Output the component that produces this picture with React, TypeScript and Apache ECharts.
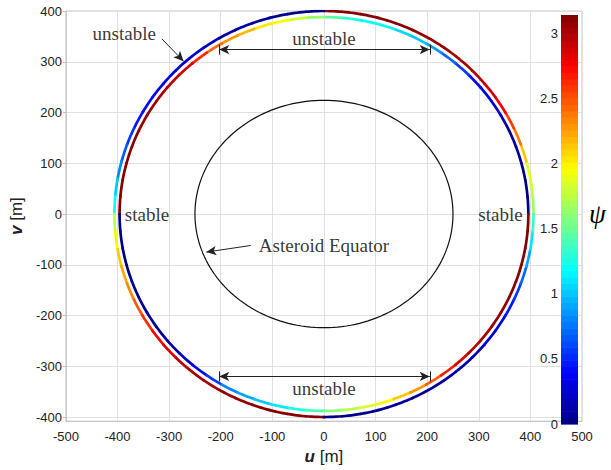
import React, { useEffect, useRef } from "react";
import * as echarts from "echarts";

// ---- axes / ticks ----
const xTicks = [-500, -400, -300, -200, -100, 0, 100, 200, 300, 400, 500];
const yTicks = [-400, -300, -200, -100, 0, 100, 200, 300, 400];
const cbTicks = [0, 0.5, 1, 1.5, 2, 2.5, 3];
const PSI_MAX = 3.1416;

// ---- sample angles (deg) along each closed curve ----
const sampleAnglesDeg = [
  0, 5, 10, 15, 20, 25, 30, 35, 40, 45, 50, 55, 60, 65, 70, 75, 80, 85,
  90, 95, 100, 105, 110, 115, 120, 125, 130, 135, 140, 145, 150, 155, 160, 165, 170, 175,
  180, 185, 190, 195, 200, 205, 210, 215, 220, 225, 230, 235, 240, 245, 250, 255, 260, 265,
  270, 275, 280, 285, 290, 295, 300, 305, 310, 315, 320, 325, 330, 335, 340, 345, 350, 355,
];

// outer orbit (semi-axes u, v) and psi read along it
const outerOrbitAxes = [406, 400];
const outerOrbitPsi = [
  1.65, 1.78, 1.9, 2.15, 2.4, 2.6, 2.75, 2.88, 2.95, 3.0, 3.04, 3.07, 3.09, 3.1, 3.11, 3.12, 3.12, 3.13,
  0.03, 0.04, 0.06, 0.08, 0.1, 0.13, 0.18, 0.24, 0.29, 0.33, 0.37, 0.41, 0.47, 0.55, 0.67, 0.82, 1.0, 1.22,
  1.75, 2.0, 2.12, 2.22, 2.32, 2.48, 2.65, 2.78, 2.88, 2.95, 3.0, 3.04, 3.07, 3.09, 3.1, 3.11, 3.12, 3.13,
  0.02, 0.03, 0.04, 0.05, 0.06, 0.07, 0.08, 0.1, 0.13, 0.18, 0.25, 0.34, 0.45, 0.58, 0.73, 0.9, 1.1, 1.35,
];

// inner orbit
const innerOrbitAxes = [396, 388];
const innerOrbitPsi = [
  0.02, 0.03, 0.04, 0.05, 0.07, 0.12, 0.2, 0.3, 0.42, 0.55, 0.7, 0.85, 1.0, 1.07, 1.13, 1.2, 1.3, 1.45,
  1.62, 1.8, 1.95, 2.05, 2.18, 2.28, 2.45, 2.65, 2.85, 2.97, 3.03, 3.07, 3.09, 3.1, 3.11, 3.12, 3.12, 3.13,
  0.02, 0.02, 0.03, 0.03, 0.04, 0.05, 0.06, 0.08, 0.12, 0.2, 0.35, 0.55, 0.8, 0.92, 1.02, 1.12, 1.25, 1.4,
  1.6, 1.72, 1.85, 2.0, 2.15, 2.3, 2.48, 2.68, 2.85, 2.97, 3.03, 3.07, 3.09, 3.1, 3.11, 3.12, 3.12, 3.13,
];

// asteroid equator semi-axes
const equatorAxes = [250, 224];

// annotations (data coordinates)
const annotationTexts = ["unstable", "unstable", "unstable", "stable", "stable", "Asteroid Equator"];
const annotationU = [-387, 0, 0, -343, 342, 0];
const annotationV = [356, 345, -343, 0, 0, -62];

const arrowFrom = [[-314, 345], [-142, -62]];
const arrowTo = [[-272, 301], [-228, -75]];
const dimensionV = [324, -320];
const dimensionU = [-203, 205];

// ---- helpers ----
const clamp = (x: number) => Math.max(0, Math.min(1, x));
function jetLevel(level: number): string {
  const t = (level + 0.5) / 64;
  const r = clamp(1.5 - Math.abs(4 * t - 3));
  const g = clamp(1.5 - Math.abs(4 * t - 2));
  const b = clamp(1.5 - Math.abs(4 * t - 1));
  return `rgb(${Math.round(r * 255)},${Math.round(g * 255)},${Math.round(b * 255)})`;
}
function jet(psi: number): string {
  const lvl = Math.min(63, Math.max(0, Math.floor((psi / PSI_MAX) * 64)));
  return jetLevel(lvl);
}

function orbitSegments(axes: number[], psi: number[]) {
  return sampleAnglesDeg.map((a0, i) => {
    const a1 = i + 1 < sampleAnglesDeg.length ? sampleAnglesDeg[i + 1] : 360;
    const coords: number[][] = [];
    const steps = 6;
    for (let k = 0; k <= steps; k++) {
      const t = ((a0 + ((a1 - a0) * k) / steps) * Math.PI) / 180;
      coords.push([axes[0] * Math.cos(t), axes[1] * Math.sin(t)]);
    }
    return { coords, lineStyle: { color: jet(psi[i]) } };
  });
}

function ellipsePoints(axes: number[]) {
  const pts: number[][] = [];
  for (let d = 0; d <= 360; d += 2) {
    const t = (d * Math.PI) / 180;
    pts.push([axes[0] * Math.cos(t), axes[1] * Math.sin(t)]);
  }
  return pts;
}

const sansFont = "'Liberation Sans', Arial, sans-serif";
const serifFont = "'Liberation Serif', 'Times New Roman', serif";
const labelColor = "#222";

function buildOption(): any {
  const cbLevels = Array.from({ length: 64 }, (_, i) => [0, i]);
  const markLineData: any[] = [];
  arrowFrom.forEach((f, i) => {
    markLineData.push([
      { coord: f, symbol: "none" },
      { coord: arrowTo[i], symbol: "arrow" },
    ]);
  });
  dimensionV.forEach((v) => {
    markLineData.push([
      { coord: [dimensionU[0], v], symbol: "arrow" },
      { coord: [dimensionU[1], v], symbol: "arrow" },
    ]);
    dimensionU.forEach((u) => {
      markLineData.push([
        { coord: [u, v - 10], symbol: "none" },
        { coord: [u, v + 10], symbol: "none" },
      ]);
    });
  });

  return {
    animation: false,
    backgroundColor: "#fff",
    grid: [
      { left: 60, top: 11, width: 522, height: 419, show: true, borderColor: "#c8c8c8", borderWidth: 1 },
      { left: 561, top: 15, width: 17, height: 409 },
    ],
    xAxis: [
      {
        type: "value",
        gridIndex: 0,
        min: xTicks[0],
        max: xTicks[xTicks.length - 1],
        interval: 100,
        axisLine: { show: true, onZero: false, lineStyle: { color: "#c8c8c8" } },
        axisTick: { show: false },
        splitLine: { show: true, lineStyle: { color: "#e0e0e0" } },
        axisLabel: { color: labelColor, fontFamily: sansFont, fontSize: 13, margin: 9 },
        name: "{b|u} [m]",
        nameLocation: "middle",
        nameGap: 19,
        nameTextStyle: {
          fontSize: 17,
          color: labelColor,
          fontFamily: sansFont,
          verticalAlign: "top",
          rich: { b: { fontSize: 17, fontWeight: "bold", fontStyle: "italic", fontFamily: sansFont, color: labelColor } },
        },
      },
      { type: "value", gridIndex: 1, min: 0, max: 1, show: false },
    ],
    yAxis: [
      {
        type: "value",
        gridIndex: 0,
        min: -408,
        max: yTicks[yTicks.length - 1],
        axisLine: { show: true, onZero: false, lineStyle: { color: "#c8c8c8" } },
        axisTick: { show: true, length: 3, customValues: yTicks, lineStyle: { color: "#bbb" } },
        splitLine: { show: true, lineStyle: { color: "#e0e0e0" } },
        axisLabel: { customValues: yTicks, color: labelColor, fontFamily: sansFont, fontSize: 13, margin: 4 },
        name: "{b|v} [m]",
        nameLocation: "middle",
        nameRotate: 90,
        nameGap: 33,
        nameTextStyle: {
          fontSize: 17,
          color: labelColor,
          fontFamily: sansFont,
          rich: { b: { fontSize: 17, fontWeight: "bold", fontStyle: "italic", fontFamily: sansFont, color: labelColor } },
        },
      },
      {
        type: "value",
        gridIndex: 1,
        min: 0,
        max: PSI_MAX,
        position: "left",
        axisLine: { show: false },
        axisTick: { show: false },
        splitLine: { show: false },
        axisLabel: { customValues: cbTicks, color: labelColor, fontFamily: sansFont, fontSize: 13, margin: 3 },
      },
    ],
    graphic: [
      {
        type: "text",
        left: 589,
        top: 200,
        silent: true,
        style: { text: "ψ", fontSize: 27, fontStyle: "italic", fontFamily: serifFont, fill: "#000" },
      },
    ],
    series: [
      {
        type: "line",
        xAxisIndex: 0,
        yAxisIndex: 0,
        data: ellipsePoints(equatorAxes),
        showSymbol: false,
        symbol: "none",
        silent: true,
        lineStyle: { color: "#111", width: 1.2 },
        z: 3,
      },
      {
        type: "lines",
        coordinateSystem: "cartesian2d",
        xAxisIndex: 0,
        yAxisIndex: 0,
        polyline: true,
        silent: true,
        lineStyle: { width: 2.7, opacity: 1, cap: "round" },
        data: orbitSegments(outerOrbitAxes, outerOrbitPsi),
        z: 4,
      },
      {
        type: "lines",
        coordinateSystem: "cartesian2d",
        xAxisIndex: 0,
        yAxisIndex: 0,
        polyline: true,
        silent: true,
        lineStyle: { width: 2.7, opacity: 1, cap: "round" },
        data: orbitSegments(innerOrbitAxes, innerOrbitPsi),
        z: 4,
      },
      {
        type: "scatter",
        xAxisIndex: 0,
        yAxisIndex: 0,
        silent: true,
        symbolSize: 1,
        itemStyle: { color: "rgba(0,0,0,0)" },
        data: annotationTexts.map((t, i) => ({ name: t, value: [annotationU[i], annotationV[i]] })),
        label: {
          show: true,
          position: "inside",
          formatter: "{b}",
          fontFamily: serifFont,
          fontSize: 19,
          color: "#000",
        },
        markLine: {
          silent: true,
          symbolSize: [7, 10],
          label: { show: false },
          emphasis: { disabled: true },
          lineStyle: { color: "#222", width: 1, type: "solid" },
          data: markLineData,
        },
        z: 5,
      },
      {
        type: "custom",
        xAxisIndex: 1,
        yAxisIndex: 1,
        silent: true,
        data: cbLevels,
        renderItem: (_params: any, api: any) => {
          const i = api.value(1);
          const lo = (i * PSI_MAX) / 64;
          const hi = ((i + 1) * PSI_MAX) / 64;
          const p0 = api.coord([0, lo]);
          const p1 = api.coord([1, hi]);
          return {
            type: "rect",
            shape: { x: p0[0], y: p1[1], width: p1[0] - p0[0], height: p0[1] - p1[1] + 0.6 },
            style: { fill: jetLevel(i) },
          };
        },
      },
    ],
  };
}

export default function App() {
  const ref = useRef<HTMLDivElement>(null);
  useEffect(() => {
    if (!ref.current) return;
    const chart = echarts.init(ref.current, null, { renderer: "svg" });
    chart.setOption(buildOption());
    return () => chart.dispose();
  }, []);
  return (
    <div
      ref={ref}
      style={{ position: "fixed", left: 0, top: 0, width: 611, height: 470, background: "#fff" }}
    />
  );
}
